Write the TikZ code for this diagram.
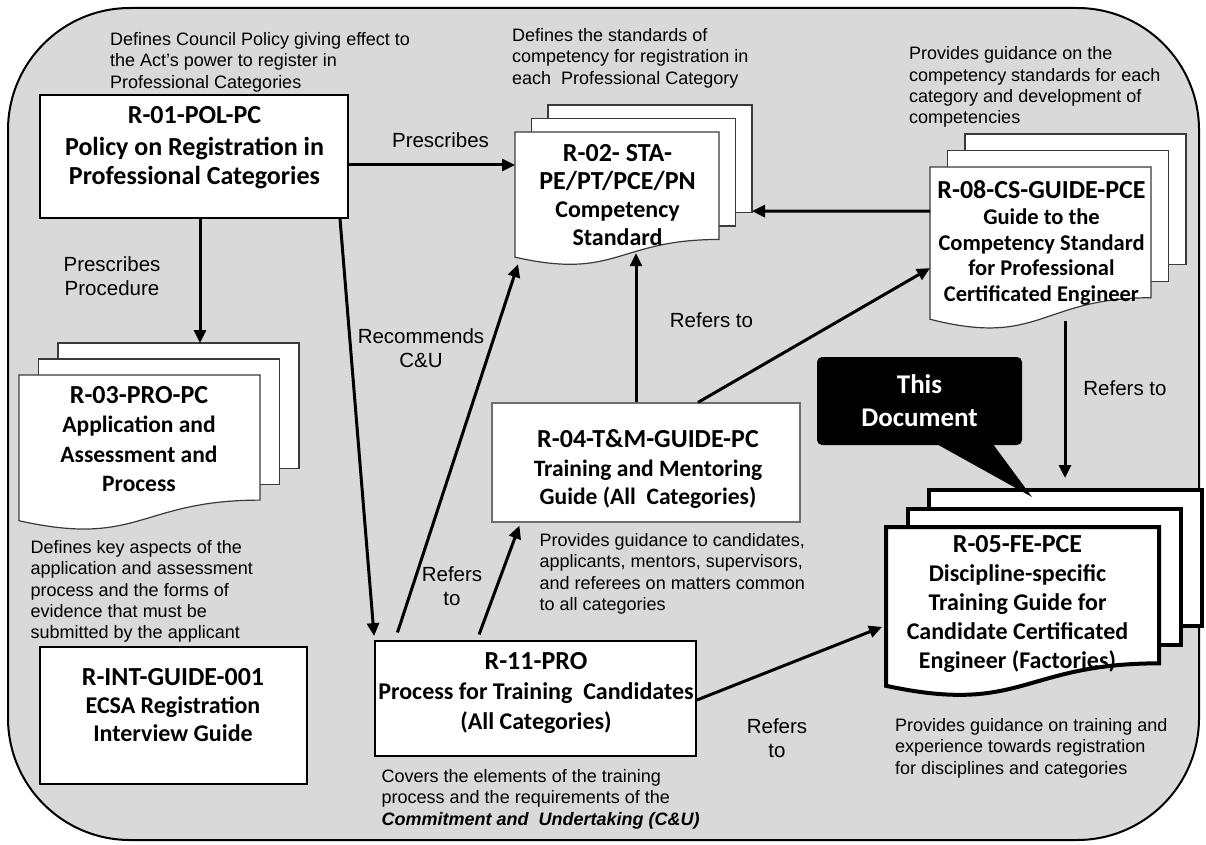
\documentclass[tikz,border=0pt]{standalone}
\usepackage{fontspec}
\setmainfont{Liberation Sans}
\newfontfamily\carl{Carlito}
\usetikzlibrary{arrows.meta}
\definecolor{bggray}{HTML}{D9D9D9}
\definecolor{pagegray}{HTML}{3A3A3A}
\definecolor{boxgray}{HTML}{6E6E6E}
% #1 style, #2 left, #3 right, #4 top, #5 height, #6 dx, #7 dy
\newcommand\docstack[7]{%
  \draw[#1] ({#2+2*#6},{#4-2*#7}) rectangle ({#3+2*#6},{#4+0.802*#5-2*#7});
  \draw[#1] ({#2+#6},{#4-#7}) rectangle ({#3+#6},{#4+0.802*#5-#7});
  \draw[#1] (#2,#4) -- (#3,#4) -- (#3,{#4+0.802*#5})
     .. controls ({(#2+#3)/2},{#4+0.802*#5}) and ({(#2+#3)/2},{#4+1.1075*#5}) .. (#2,{#4+0.934*#5}) -- cycle;}
\tikzset{
  page/.style={draw=pagegray, fill=white, line width=1.2pt},
  thickpage/.style={draw=black, fill=white, line width=4pt},
  box/.style={draw=black, fill=white, line width=1.8pt, inner sep=0},
  anchorbox/.style={inner sep=0, outer sep=0},
  boxtxt/.style={font=\carl\bfseries\fontsize{24}{29}\selectfont, align=center, inner sep=0},
  desc/.style={font=\fontsize{18}{21.4}\selectfont, align=left, inner sep=0, anchor=north west},
  lab/.style={font=\fontsize{20.5}{24.5}\selectfont, align=center, inner sep=0},
  arr/.style={line width=3pt, -{Triangle[length=13pt,width=12pt]}},
  callout/.style={fill=black, rounded corners=5pt, text=white, inner sep=0,
     minimum width=205pt, minimum height=88pt, align=center,
     font=\carl\bfseries\fontsize{27}{33}\selectfont}
}
\newcommand\ttl[1]{{\fontsize{26}{29}\selectfont #1}}
\begin{document}
\begin{tikzpicture}[x=1pt,y=-1pt]
\useasboundingbox (0,0) rectangle (1206,845);
% background frame
\draw[line width=2pt, fill=bggray, rounded corners=122pt] (8,8) rectangle (1199,840);

% rectangular boxes
\node[box, minimum width=308pt, minimum height=123pt] (r01) at (194,156.5) {};
\node[box, minimum width=267pt, minimum height=137pt] (rint) at (173.5,715.5) {};
\node[box, draw=boxgray, line width=1.2pt, minimum width=308pt, minimum height=119pt] (r04) at (646,462.5) {};
\node[box, minimum width=321pt, minimum height=115pt] (r11) at (535.5,698.5) {};

% document stacks
\docstack{page}{515}{719}{132}{134}{16.5}{13.5}
\docstack{page}{930}{1151}{167}{163}{17.5}{16.5}
\docstack{page}{19}{260}{375}{156}{19.5}{16}
\docstack{thickpage}{886}{1159}{527}{170}{21.5}{18.5}
\node[anchorbox, minimum width=237pt, minimum height=152.2pt] (r02) at (633.5,181.1) {};
\node[anchorbox, minimum width=256pt, minimum height=185.2pt] (r08) at (1058,226.6) {};
\node[anchorbox, minimum width=280pt, minimum height=177.7pt] (r03) at (159,431.9) {};
\node[anchorbox, minimum width=316pt, minimum height=195.8pt] (r05) at (1044,587.9) {};

% box texts
\node[boxtxt, anchor=north, font=\carl\bfseries\fontsize{26}{29}\selectfont] (r01t) at (194.5,106)
  {R-01-POL-PC\\[3pt]Policy on Registration in\\Professional Categories};
\node[boxtxt, anchor=north, font=\carl\bfseries\fontsize{24}{28}\selectfont] (r02t) at (617.5,144)
  {\ttl{R-02- STA-}\\\ttl{PE/PT/PCE/PN}\\Competency\\Standard};
\node[boxtxt, anchor=north, font=\carl\bfseries\fontsize{22.5}{25.5}\selectfont] (r08t) at (1041.5,180)
  {\ttl{R-08-CS-GUIDE-PCE}\\[1pt]Guide to the\\Competency Standard\\for Professional\\Certificated Engineer};
\node[boxtxt, anchor=north, font=\carl\bfseries\fontsize{23.5}{29.5}\selectfont] (r03t) at (139,386)
  {\ttl{R-03-PRO-PC}\\Application and\\Assessment and\\Process};
\node[boxtxt, anchor=north, font=\carl\bfseries\fontsize{24}{28}\selectfont] (rintt) at (173,668)
  {\ttl{R-INT-GUIDE-001}\\ECSA Registration\\Interview Guide};
\node[boxtxt, anchor=north, font=\carl\bfseries\fontsize{23.5}{28.5}\selectfont] (r04t) at (648,429.5)
  {\ttl{R-04-T\&M-GUIDE-PC}\\Training and Mentoring\\Guide (All~ Categories)};
\node[boxtxt, anchor=north, font=\carl\bfseries\fontsize{24}{30}\selectfont] (r11t) at (536,652)
  {\ttl{R-11-PRO}\\Process for Training~ Candidates\\(All Categories)};
\node[boxtxt, anchor=north, font=\carl\bfseries\fontsize{24}{29}\selectfont] (r05t) at (1017.5,535)
  {\ttl{R-05-FE-PCE}\\Discipline-specific\\Training Guide for\\Candidate Certificated\\Engineer (Factories)};

% callout
\node[callout] (thisdoc) at (919.5,401) {This\\Document};
\fill ([xshift=17.5pt,yshift=1pt]thisdoc.south) -- ([xshift=-12pt,yshift=-7pt]r05.north)
   -- ([xshift=73.5pt,yshift=1pt]thisdoc.south) -- cycle;

% descriptions
\node[desc] (d01) at (110,32) {Defines Council Policy giving effect to\\the Act’s power to register in\\Professional Categories};
\node[desc] (d02) at (512,28) {Defines the standards of\\competency for registration in\\each~ Professional Category};
\node[desc] (d08) at (909,46.5) {Provides guidance on the\\competency standards for each\\category and development of\\competencies};
\node[desc] (d03) at (30.5,540) {Defines key aspects of the\\application and assessment\\process and the forms of\\evidence that must be\\submitted by the applicant};
\node[desc] (d04) at (539.5,533) {Provides guidance to candidates,\\applicants, mentors, supervisors,\\and referees on matters common\\to all categories};
\node[desc] (d11) at (381.5,769) {Covers the elements of the training\\process and the requirements of the\\\textbf{\textit{Commitment and~ Undertaking (C\&U)}}};
\node[desc] (d05) at (895,718) {Provides guidance on training and\\experience towards registration\\for disciplines and categories};

% connectors
\draw[arr] ([yshift=-8.5pt]r01.east) -- ([yshift=16.1pt]r02.west);
\draw[arr] ([xshift=6pt]r01.south) -- ([xshift=41pt]r03.north);
\draw[arr] ([xshift=146pt]r01.south) -- ([yshift=4pt]r11.north west);
\draw[arr, shorten <=8pt] ([xshift=-140.5pt]r11.north) -- ([xshift=3pt,yshift=-7pt]r02.south west);
\draw[arr, shorten <=6pt] ([xshift=-58.5pt]r11.north) -- ([xshift=28pt,yshift=-3pt]r04.south west);
\draw[arr] ([xshift=-10pt]r04.north) -- ([xshift=2.5pt,yshift=4pt]r02.south);
\draw[arr] ([xshift=52pt]r04.north) -- ([yshift=-41.5pt]r08.west);
\draw[arr] ([yshift=15.6pt]r08.west) -- ([yshift=-30pt]r02.east);
\draw[arr, shorten <=2pt] ([xshift=7pt]r08.south) -- ([xshift=21pt,yshift=12pt]r05.north);
\draw[arr] ([yshift=-1.5pt]r11.east) -- ([xshift=-4pt,yshift=-39pt]r05.west);

% connector labels
\node[lab] (l1) at (440.5,140) {Prescribes};
\node[lab] (l2) at (112,276) {Prescribes\\Procedure};
\node[lab] (l3) at (421,348) {Recommends\\C\&U};
\node[lab] (l4) at (711.5,320) {Refers to};
\node[lab] (l5) at (452,586) {Refers\\to};
\node[lab] (l6) at (1125,388) {Refers to};
\node[lab] (l7) at (777,738) {Refers\\to};
\end{tikzpicture}
\end{document}
